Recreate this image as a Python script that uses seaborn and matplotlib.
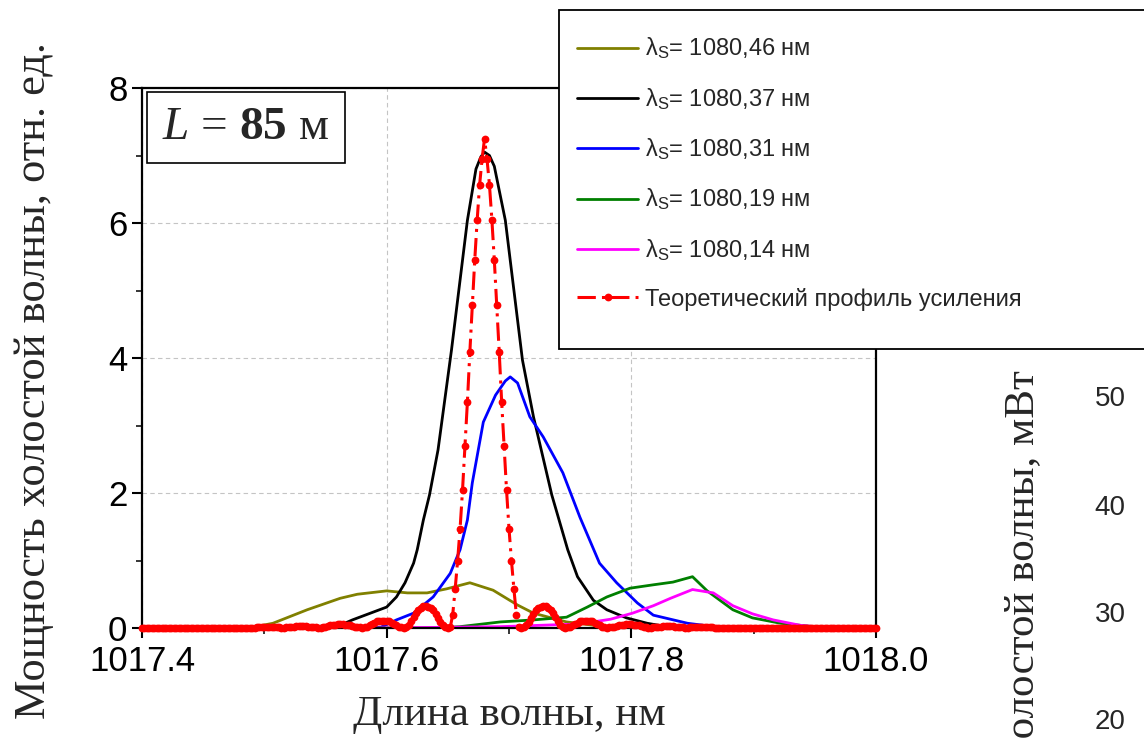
import numpy as np
import pandas as pd
import matplotlib
matplotlib.use("Agg")
import matplotlib.pyplot as plt
from matplotlib.patches import Rectangle
import seaborn as sns

# ---------------- data ----------------
olive_x = [1017.40, 1017.49, 1017.507, 1017.535, 1017.562, 1017.576, 1017.600, 1017.617, 1017.633,
           1017.649, 1017.668, 1017.687, 1017.707, 1017.720, 1017.747, 1017.774, 1017.80, 1018.0]
olive_y = [0, 0.01, 0.07, 0.27, 0.44, 0.50, 0.55, 0.52, 0.52,
           0.58, 0.67, 0.56, 0.34, 0.22, 0.09, 0.03, 0.0, 0]

black_x = [1017.40, 1017.50, 1017.529, 1017.562, 1017.572, 1017.600, 1017.608, 1017.615, 1017.622,
           1017.625, 1017.630, 1017.635, 1017.642, 1017.653, 1017.666, 1017.673, 1017.677, 1017.680,
           1017.684, 1017.688, 1017.697, 1017.711, 1017.720, 1017.735, 1017.748, 1017.756, 1017.769,
           1017.780, 1017.796, 1017.813, 1017.832, 1017.86, 1018.0]
black_y = [0, 0, 0.01, 0.04, 0.12, 0.31, 0.46, 0.67, 0.96,
           1.16, 1.60, 1.97, 2.64, 4.12, 6.04, 6.80, 6.98, 7.05,
           7.00, 6.84, 6.04, 3.97, 3.13, 1.97, 1.16, 0.76, 0.41,
           0.27, 0.15, 0.07, 0.01, 0, 0]

blue_x = [1017.40, 1017.57, 1017.595, 1017.608, 1017.622, 1017.638, 1017.652, 1017.660, 1017.666,
          1017.670, 1017.679, 1017.689, 1017.697, 1017.701, 1017.707, 1017.717, 1017.728, 1017.744,
          1017.758, 1017.774, 1017.788, 1017.805, 1017.818, 1017.846, 1017.872, 1017.90, 1018.0]
blue_y = [0, 0, 0.01, 0.12, 0.22, 0.46, 0.81, 1.16, 1.60,
          2.15, 3.05, 3.45, 3.66, 3.72, 3.63, 3.13, 2.83, 2.30,
          1.64, 0.96, 0.67, 0.37, 0.19, 0.07, 0.01, 0, 0]

green_x = [1017.40, 1017.64, 1017.66, 1017.693, 1017.720, 1017.747, 1017.764, 1017.780, 1017.799,
           1017.818, 1017.834, 1017.850, 1017.862, 1017.883, 1017.899, 1017.922, 1017.954, 1018.0]
green_y = [0, 0, 0.02, 0.09, 0.12, 0.16, 0.31, 0.46, 0.59,
           0.64, 0.68, 0.76, 0.55, 0.27, 0.15, 0.07, 0.01, 0]

magenta_x = [1017.40, 1017.595, 1017.693, 1017.758, 1017.783, 1017.801, 1017.818, 1017.832, 1017.850,
             1017.867, 1017.883, 1017.899, 1017.916, 1017.938, 1017.962, 1018.0]
magenta_y = [0, 0, 0.02, 0.06, 0.13, 0.22, 0.33, 0.44, 0.57,
             0.52, 0.33, 0.21, 0.12, 0.04, 0, 0]

# theoretical gain profile, sampled every 0.002 nm from 1017.400 to 1018.000
theory_x = np.round(np.linspace(1017.4, 1018.0, 301), 3)
theory_y = [
    0, 0, 0, 0, 0, 0, 0, 0, 0, 0,
    0, 0, 0, 0, 0, 0, 0, 0, 0, 0,
    0, 0, 0, 0, 0, 0, 0, 0, 0, 0,
    0, 0, 0, 0, 0, 0, 0, 0, 0, 0,
    0, 0, 0, 0, 0, 0,
    0.00, 0.01, 0.01, 0.02, 0.02, 0.02, 0.02, 0.02, 0.01, 0.01,
    0.01, 0.00, 0.00, 0.01, 0.01, 0.02, 0.02, 0.03, 0.03, 0.03,
    0.03, 0.03, 0.02, 0.02, 0.01, 0.01, 0.00, 0.00, 0.01, 0.02,
    0.03, 0.04, 0.05, 0.05, 0.06, 0.06, 0.06, 0.05, 0.05, 0.04,
    0.03, 0.02, 0.01, 0.01, 0.00, 0.01, 0.02, 0.04, 0.06, 0.08,
    0.10, 0.11, 0.11, 0.11, 0.11, 0.10, 0.08, 0.06, 0.04, 0.02,
    0.01, 0.00, 0.02, 0.05, 0.10, 0.16, 0.22, 0.27, 0.30, 0.32,
    0.32, 0.31, 0.29, 0.26, 0.21, 0.15, 0.09, 0.04, 0.01, 0.00,
    0.01, 0.20, 0.58, 1.00, 1.47, 2.04, 2.69, 3.35, 4.09, 4.78,
    5.45, 6.05, 6.57, 6.95,
    7.25,
    6.95, 6.57, 6.05, 5.45, 4.78, 4.09, 3.35, 2.69, 2.04, 1.47,
    1.00, 0.58, 0.20, 0.01, 0.00, 0.01, 0.04, 0.09, 0.15, 0.21,
    0.26, 0.29, 0.31, 0.32, 0.32, 0.30, 0.27, 0.22, 0.16, 0.10,
    0.05, 0.02, 0.00, 0.01, 0.02, 0.04, 0.06, 0.08, 0.10, 0.11,
    0.11, 0.11, 0.11, 0.10, 0.08, 0.06, 0.04, 0.02, 0.01, 0.00,
    0.01, 0.01, 0.02, 0.03, 0.04, 0.05, 0.05, 0.06, 0.06, 0.06,
    0.05, 0.05, 0.04, 0.03, 0.02, 0.01, 0.00, 0.00, 0.01, 0.01,
    0.02, 0.02, 0.03, 0.03, 0.03, 0.03, 0.03, 0.02, 0.02, 0.01,
    0.01, 0.00, 0.00, 0.01, 0.01, 0.01, 0.02, 0.02, 0.02, 0.02,
    0.02, 0.01, 0.01, 0.00,
    0, 0, 0, 0, 0, 0, 0, 0, 0, 0,
    0, 0, 0, 0, 0, 0, 0, 0, 0, 0,
    0, 0, 0, 0, 0, 0, 0, 0, 0, 0,
    0, 0, 0, 0, 0, 0, 0, 0, 0, 0,
    0, 0, 0, 0, 0, 0, 0, 0, 0, 0,
    0, 0, 0, 0, 0, 0, 0, 0, 0, 0,
    0, 0, 0, 0, 0, 0,
]

series_labels = ["λ$_\\mathregular{S}$= 1080,46 нм", "λ$_\\mathregular{S}$= 1080,37 нм",
                 "λ$_\\mathregular{S}$= 1080,31 нм", "λ$_\\mathregular{S}$= 1080,19 нм",
                 "λ$_\\mathregular{S}$= 1080,14 нм"]
theory_label = "Теоретический профиль усиления"
series_colors = ["#808000", "#000000", "#0000ff", "#007f00", "#ff00ff"]

x_ticks = [1017.4, 1017.6, 1017.8, 1018.0]
x_ticklabels = ["1017.4", "1017.6", "1017.8", "1018.0"]
y_ticks = [0, 2, 4, 6, 8]
right_ticklabels = ["50", "40", "30", "20"]

# ---------------- style ----------------
sns.set_style("white")
plt.rcParams["font.family"] = ["Liberation Sans", "DejaVu Sans"]
plt.rcParams["mathtext.fontset"] = "custom"
plt.rcParams["mathtext.rm"] = "Liberation Serif"
plt.rcParams["mathtext.it"] = "Liberation Serif:italic"
plt.rcParams["mathtext.bf"] = "Liberation Serif:bold"

fig = plt.figure(figsize=(11.44, 7.38), dpi=100)
ax = fig.add_axes([142 / 1144, 1 - 628 / 738, 734 / 1144, 540 / 738])

xs = [olive_x, black_x, blue_x, green_x, magenta_x]
ys = [olive_y, black_y, blue_y, green_y, magenta_y]
for x, y, c, lab in zip(xs, ys, series_colors, series_labels):
    sns.lineplot(x=x, y=y, color=c, linewidth=2.0, label=lab, ax=ax,
                 estimator=None, sort=False)

sns.lineplot(x=theory_x, y=theory_y, color="#ff0000", linewidth=2.2,
             linestyle=(0, (6, 2, 1, 2)), marker="o", markersize=5.6,
             markeredgewidth=0, label=theory_label, ax=ax,
             estimator=None, sort=False, clip_on=False, zorder=3)

if ax.get_legend() is not None:
    ax.get_legend().remove()

ax.set_xlim(1017.4, 1018.0)
ax.set_ylim(0, 8)
ax.set_xticks(x_ticks)
ax.set_xticklabels(x_ticklabels)
ax.set_xticks([1017.5, 1017.7, 1017.9], minor=True)
ax.set_yticks(y_ticks)
ax.set_yticks([1, 3, 5, 7], minor=True)
ax.tick_params(axis="both", which="major", direction="out", length=7, width=1.5,
               labelsize=25, pad=3, bottom=True, left=True, colors="black")
ax.tick_params(axis="x", which="major", pad=5.5)
ax.tick_params(axis="y", which="major", pad=3.5)
ax.tick_params(axis="both", which="minor", direction="out", length=4, width=1.3,
               bottom=True, left=True)
ax.grid(True, which="major", color="#c4c4c4", linestyle=(0, (4, 3)), linewidth=0.8)
ax.set_axisbelow(True)
for s in ax.spines.values():
    s.set_color("black")
    s.set_linewidth(1.6)

ax.set_xlabel("Длина волны, нм", family="Liberation Serif", fontsize=31)
ax.xaxis.set_label_coords(0.5, -0.16)
ax.xaxis.label.set_va("center")
ax.set_ylabel("Мощность холостой волны, отн. ед.", family="Liberation Serif", fontsize=32,
              va="center", rotation_mode="default")
ax.yaxis.set_label_coords(-0.1465, 0.458)

# L = 85 m box
ax.add_patch(Rectangle((5 / 734, 465 / 540), 198 / 734, 71 / 540, transform=ax.transAxes,
                       facecolor="white", edgecolor="black", linewidth=1.2, zorder=5))
ax.text(104 / 734, 500.5 / 540, r"$\mathit{L}$ = $\mathbf{85}$ м", transform=ax.transAxes,
        ha="center", va="center", fontsize=34, family="Liberation Serif", zorder=6)

# legend box (extends past the right edge)
fig.patches.append(Rectangle((559 / 1144, 1 - 349 / 738), 700 / 1144, 339 / 738,
                             transform=fig.transFigure, facecolor="white",
                             edgecolor="black", linewidth=1.3, zorder=4))
handles, labels = ax.get_legend_handles_labels()
leg = fig.legend(handles, labels, loc="upper left", bbox_to_anchor=(577 / 1144, 1 - 36 / 738),
                 frameon=False, fontsize=17, handlelength=2.6, handletextpad=0.3,
                 labelspacing=1.06, borderpad=0, borderaxespad=0, numpoints=1)
leg.set_zorder(6)

# neighbouring chart fragment at the right edge
fig.text(1024 / 1144, 1 - 370 / 738, "Мощность холостой волны, мВт", rotation=90,
         ha="center", va="top", fontsize=31, family="Liberation Serif")
for lab, ypix in zip(right_ticklabels, [399, 508, 615, 722]):
    fig.text(1110 / 1144, 1 - ypix / 738, lab, ha="center", va="center", fontsize=20)

fig.savefig("out.png", dpi=100)
